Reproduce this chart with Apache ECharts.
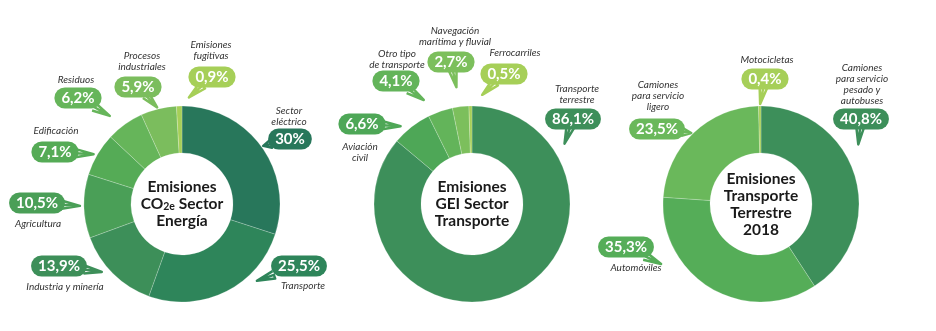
<!DOCTYPE html>
<html>
<head>
<meta charset="utf-8">
<script src="https://cdn.jsdelivr.net/npm/echarts@6/dist/echarts.min.js"></script>
<style>
  html, body { margin: 0; padding: 0; background: #ffffff; }
  #chart { width: 936px; height: 331px; }
</style>
</head>
<body>
<div id="chart"></div>
<script>
// Emisiones CO2e Sector Energía (%)
const energiaNames = ['Sector\neléctrico', 'Transporte', 'Industria y minería', 'Agricultura',
  'Edificación', 'Residuos', 'Procesos\nindustriales', 'Emisiones\nfugitivas'];
const energiaValues = [30, 25.5, 13.9, 10.5, 7.1, 6.2, 5.9, 0.9];

// Emisiones GEI Sector Transporte (%)
const transporteNames = ['Transporte\nterrestre', 'Aviación\ncivil', 'Otro tipo\nde transporte',
  'Navegación\nmarítima y fluvial', 'Ferrocarriles'];
const transporteValues = [86.1, 6.6, 4.1, 2.7, 0.5];

// Emisiones Transporte Terrestre 2018 (%)
const terrestreNames = ['Camiones\npara servicio\npesado y\nautobuses', 'Automóviles',
  'Camiones\npara servicio\nligero', 'Motocicletas'];
const terrestreValues = [40.8, 35.3, 23.5, 0.4];

// Slice colours
const energiaColors = ['#28775b', '#2e855a', '#3d8f59', '#4a9f57', '#55ab56', '#66b55a', '#7bbd5d', '#a6cf58'];
const transporteColors = ['#3d8f5a', '#4ea757', '#63b45a', '#7cbf5c', '#a6cf58'];
const terrestreColors = ['#3d8f5a', '#55ad58', '#6ab85b', '#a6cf58'];

// Donut centres and radii
const centers = [[182, 204], [472, 204], [761, 204]];
const radius = [51, 98];

// Placement of callout bubbles and category captions (centre points)
const energiaBubbles = [[290, 139], [299, 266], [59, 266], [37, 203], [55, 152], [78, 98], [138, 87], [212, 77]];
const energiaCaptions = [[289, 116], [303, 286], [65, 287], [38, 224], [56, 131], [76, 80], [142, 61], [211, 50]];
const transporteBubbles = [[573, 119], [362, 124], [396, 81], [451, 62], [504, 74]];
const transporteCaptions = [[577, 94], [360, 152], [397, 59], [455, 36], [515, 53]];
const terrestreBubbles = [[861, 119], [626, 247], [657, 129], [765, 79]];
const terrestreCaptions = [[862, 84], [636, 268], [658, 96], [767, 60]];

const centerTitles = [
  '{b|Emisiones}\n{b|CO}{s|2e}{b| Sector}\n{b|Energía}',
  '{b|Emisiones}\n{b|GEI Sector}\n{b|Transporte}',
  '{b|Emisiones}\n{b|Transporte}\n{b|Terrestre}\n{b|2018}'
];

const fmt = v => String(v).replace('.', ',') + '%';

// Callout tail: a short wedge leaving the bubble towards the slice's outer mid-point
const TAIL_LEN = 15;
const TAIL_HALF = 4;
function tailPoints(c, rect, anchor) {
  const vx = anchor[0] - c[0], vy = anchor[1] - c[1];
  const dist = Math.hypot(vx, vy) || 1;
  const dx = vx / dist, dy = vy / dist;
  const hw = rect.width / 2, hh = rect.height / 2;
  const t = Math.min(Math.abs(dx) > 1e-6 ? hw / Math.abs(dx) : Infinity,
                     Math.abs(dy) > 1e-6 ? hh / Math.abs(dy) : Infinity);
  const len = Math.max(4, Math.min(TAIL_LEN, dist - t - 2));
  const bx = c[0] + dx * (t - 3), by = c[1] + dy * (t - 3);
  const tip = [c[0] + dx * (t + len), c[1] + dy * (t + len)];
  const px = -dy * TAIL_HALF, py = dx * TAIL_HALF;
  return [[bx + px, by + py], tip, [bx - px, by - py], [bx, by], tip];
}

function sliceSeries(idx, names, values, colors, bubbles) {
  return {
    type: 'pie',
    center: centers[idx],
    radius: radius,
    startAngle: 90,
    clockwise: true,
    avoidLabelOverlap: false,
    animation: false,
    silent: true,
    itemStyle: { borderColor: 'rgba(255,255,255,0.35)', borderWidth: 0.6 },
    label: {
      show: true,
      position: 'outside',
      formatter: p => fmt(p.value),
      color: '#ffffff',
      fontFamily: 'Lato',
      fontWeight: 'bold',
      fontSize: 15,
      lineHeight: 17,
      padding: [2, 7, 2, 7],
      borderRadius: 11
    },
    labelLine: { show: true, length: 6, length2: 0, lineStyle: { width: 2.5, join: 'round' } },
    labelLayout: p => {
      const c = bubbles[p.dataIndex];
      return {
        x: c[0], y: c[1],
        align: 'center', verticalAlign: 'middle', hideOverlap: false,
        labelLinePoints: tailPoints(c, p.labelRect, p.labelLinePoints[0])
      };
    },
    data: names.map((n, i) => ({
      name: n, value: values[i],
      itemStyle: { color: colors[i] },
      label: { backgroundColor: colors[i] }
    }))
  };
}

function captionSeries(idx, names, values, captions) {
  return {
    type: 'pie',
    center: centers[idx],
    radius: radius,
    startAngle: 90,
    clockwise: true,
    avoidLabelOverlap: false,
    animation: false,
    silent: true,
    itemStyle: { color: 'rgba(0,0,0,0)' },
    label: {
      show: true,
      position: 'outside',
      formatter: p => p.name,
      color: '#333333',
      fontFamily: 'Lato',
      fontStyle: 'italic',
      fontSize: 10,
      lineHeight: 11,
      align: 'center'
    },
    labelLine: { show: false },
    labelLayout: p => ({
      x: captions[p.dataIndex][0], y: captions[p.dataIndex][1],
      align: 'center', verticalAlign: 'middle', hideOverlap: false
    }),
    data: names.map((n, i) => ({ name: n, value: values[i] }))
  };
}

const chart = echarts.init(document.getElementById('chart'), null, { renderer: 'canvas' });
chart.setOption({
  backgroundColor: '#ffffff',
  title: centerTitles.map((t, i) => ({
    text: t,
    left: centers[i][0],
    top: centers[i][1],
    textAlign: 'center',
    textVerticalAlign: 'middle',
    padding: 0,
    textStyle: {
      rich: {
        b: { fontFamily: 'Lato', fontWeight: 'bold', fontSize: 15.5, color: '#1a1a1a', lineHeight: 17 },
        s: { fontFamily: 'Lato', fontWeight: 'bold', fontSize: 10.5, color: '#1a1a1a', lineHeight: 17, padding: [6, 0, 0, 0] }
      }
    }
  })),
  series: [
    sliceSeries(0, energiaNames, energiaValues, energiaColors, energiaBubbles),
    captionSeries(0, energiaNames, energiaValues, energiaCaptions),
    sliceSeries(1, transporteNames, transporteValues, transporteColors, transporteBubbles),
    captionSeries(1, transporteNames, transporteValues, transporteCaptions),
    sliceSeries(2, terrestreNames, terrestreValues, terrestreColors, terrestreBubbles),
    captionSeries(2, terrestreNames, terrestreValues, terrestreCaptions)
  ]
});
</script>
</body>
</html>
